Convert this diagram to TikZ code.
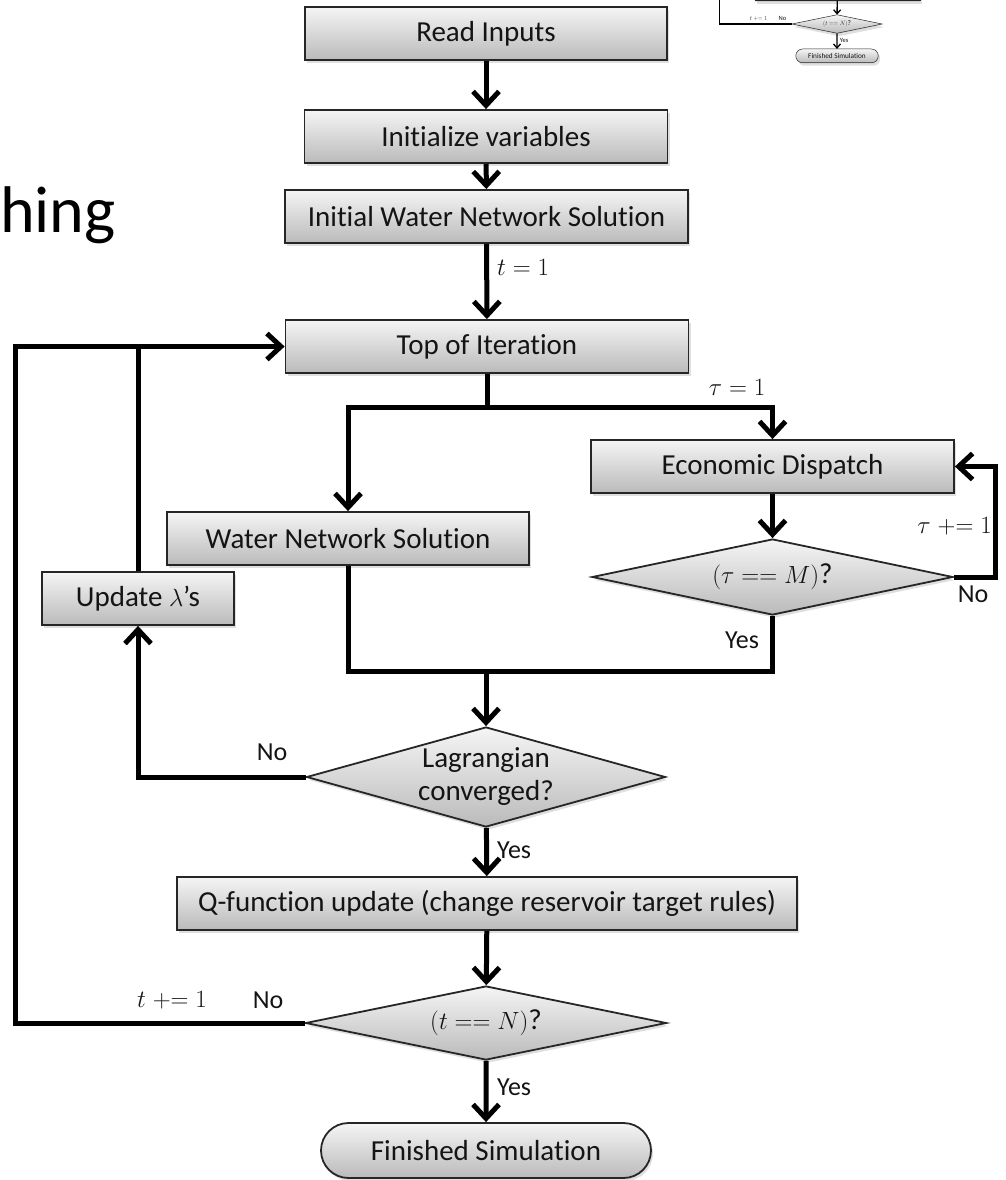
\documentclass[tikz,border=0pt]{standalone}
\usepackage{fontspec}
\setmainfont{Carlito}[Ligatures={NoCommon,NoContextual}, RawFeature={-liga;-clig;-calt;-dlig}]
\usetikzlibrary{arrows.meta,shapes.geometric,shapes.misc,shadows}

\newcommand\boxfont{\fontsize{29}{33}\selectfont}
\newcommand\lblfont{\fontsize{26}{30}\selectfont}

\begin{document}
\begin{tikzpicture}[x=1pt,y=-1pt,
  base/.style={draw=black!85, line width=1.8pt, top color=black!4, bottom color=black!27,
    drop shadow={opacity=0.25, shadow xshift=2pt, shadow yshift=-3pt},
    font=\boxfont, text=black!92, inner sep=0pt},
  box/.style={base, rectangle, minimum height=53pt},
  decide/.style={base, diamond, aspect=3.6},
  term/.style={base, rounded rectangle, minimum height=55pt, minimum width=330pt},
  conn/.style={line width=5pt, black},
  arr/.style={conn, -{Straight Barb[length=14pt,width=26pt]}},
  lbl/.style={font=\lblfont, inner sep=0pt, text=black!92},
]
\useasboundingbox (0,0) rectangle (1005,1180);
\clip (0,0) rectangle (1005,1180);

% heading fragment on the left
\node[anchor=base west, inner sep=0pt, font=\fontsize{66}{70}\selectfont] (head) at (0,232) {hing};

% main column
\node[box, minimum width=362pt] (read) at (486,33.5) {Read Inputs};
\node[box, minimum width=363pt] (init) at (486,136.5) {Initialize variables};
\node[box, minimum width=403pt] (initwn) at (486.5,216.5) {Initial Water Network Solution};
\node[box, minimum width=403pt] (top) at (487,346.5) {Top of Iteration};
\node[box, minimum width=363pt] (ed) at (772.5,466.5) {Economic Dispatch};
\node[box, minimum width=362pt] (wns) at (348,538.5) {Water Network Solution};
\node[decide, minimum width=361pt, minimum height=76pt] (tauM) at (772.5,577) {$(\tau == M)$?};
\node[box, minimum width=192pt] (upd) at (138,598.5) {Update $\lambda$’s};
\node[decide, minimum width=359pt, minimum height=100pt, align=center] (lag) at (486,777) {Lagrangian\\converged?};
\node[box, minimum width=620pt] (q) at (487,903.5) {Q-function update (change reservoir target rules)};
\node[decide, minimum width=361pt, minimum height=74pt] (tN) at (486,1023) {$(t == N)$?};
\node[term] (fin) at (486,1150.5) {Finished Simulation};

% junction points
\coordinate (split) at (487,407);
\coordinate (merge) at (486,671);
\coordinate (outer) at (15,700);

% connectors
\draw[arr] (read) -- (init);
\draw[arr] (init) -- (initwn);
\draw[arr] (initwn) -- (top);
\draw[conn] (top.south) -- (split);
\draw[arr] (split) -| (ed.north);
\draw[arr] (split) -| (wns.north);
\draw[arr] (ed) -- (tauM);
\draw[arr] (tauM.east) -- ++(42,0) |- (ed.east);
\draw[conn] (tauM.south) |- (merge);
\draw[conn] (wns.south) |- (merge);
\draw[arr] (merge) -- (lag.north);
\draw[arr] (lag.west) -| (upd.south);
\draw[conn] (upd.north) -- (upd.north |- top.west);
\draw[arr] (lag) -- (q);
\draw[arr] (q) -- (tN);
\draw[arr] (tN.west) -| (outer) |- (top.west);
\draw[arr] (tN) -- (fin);

% connector labels
\node[lbl, anchor=west] (l1) at (497,267) {$t = 1$};
\node[lbl] (l2) at (737,387) {$\tau = 1$};
\node[lbl, anchor=east] (l3) at (992,526) {$\tau \mathrel{+}= 1$};
\node[lbl] (l4) at (973,594) {No};
\node[lbl] (l5) at (742,640) {Yes};
\node[lbl] (l6) at (272,752) {No};
\node[lbl, anchor=west] (l7) at (497,850) {Yes};
\node[lbl] (l8) at (172,1000) {$t \mathrel{+}= 1$};
\node[lbl] (l9) at (268,1000) {No};
\node[lbl, anchor=west] (l10) at (497,1087) {Yes};

% small copy of the closing steps, top right
\begin{scope}[shift={(715.5,-231.75)}, scale=0.25, transform shape,
  base/.append style={line width=0.5pt, drop shadow={opacity=0.2, shadow xshift=0.5pt, shadow yshift=-0.8pt}},
  conn/.style={line width=1.3pt, black},
  arr/.style={conn, -{Straight Barb[length=4pt,width=7pt]}}]
  \node[box, minimum width=660pt] (qT) at (487,903.5) {};
  \node[decide, minimum width=361pt, minimum height=74pt] (tNT) at (486,1023) {$(t == N)$?};
  \node[term] (finT) at (486,1150.5) {Finished Simulation};
  \coordinate (outerT) at (15,600);
  \draw[arr] (qT) -- (tNT);
  \draw[conn] (tNT.west) -| (outerT);
  \draw[arr] (tNT) -- (finT);
  \node[lbl] (l8T) at (172,1000) {$t \mathrel{+}= 1$};
  \node[lbl] (l9T) at (268,1000) {No};
  \node[lbl, anchor=west] (l10T) at (497,1087) {Yes};
\end{scope}
\end{tikzpicture}
\end{document}
